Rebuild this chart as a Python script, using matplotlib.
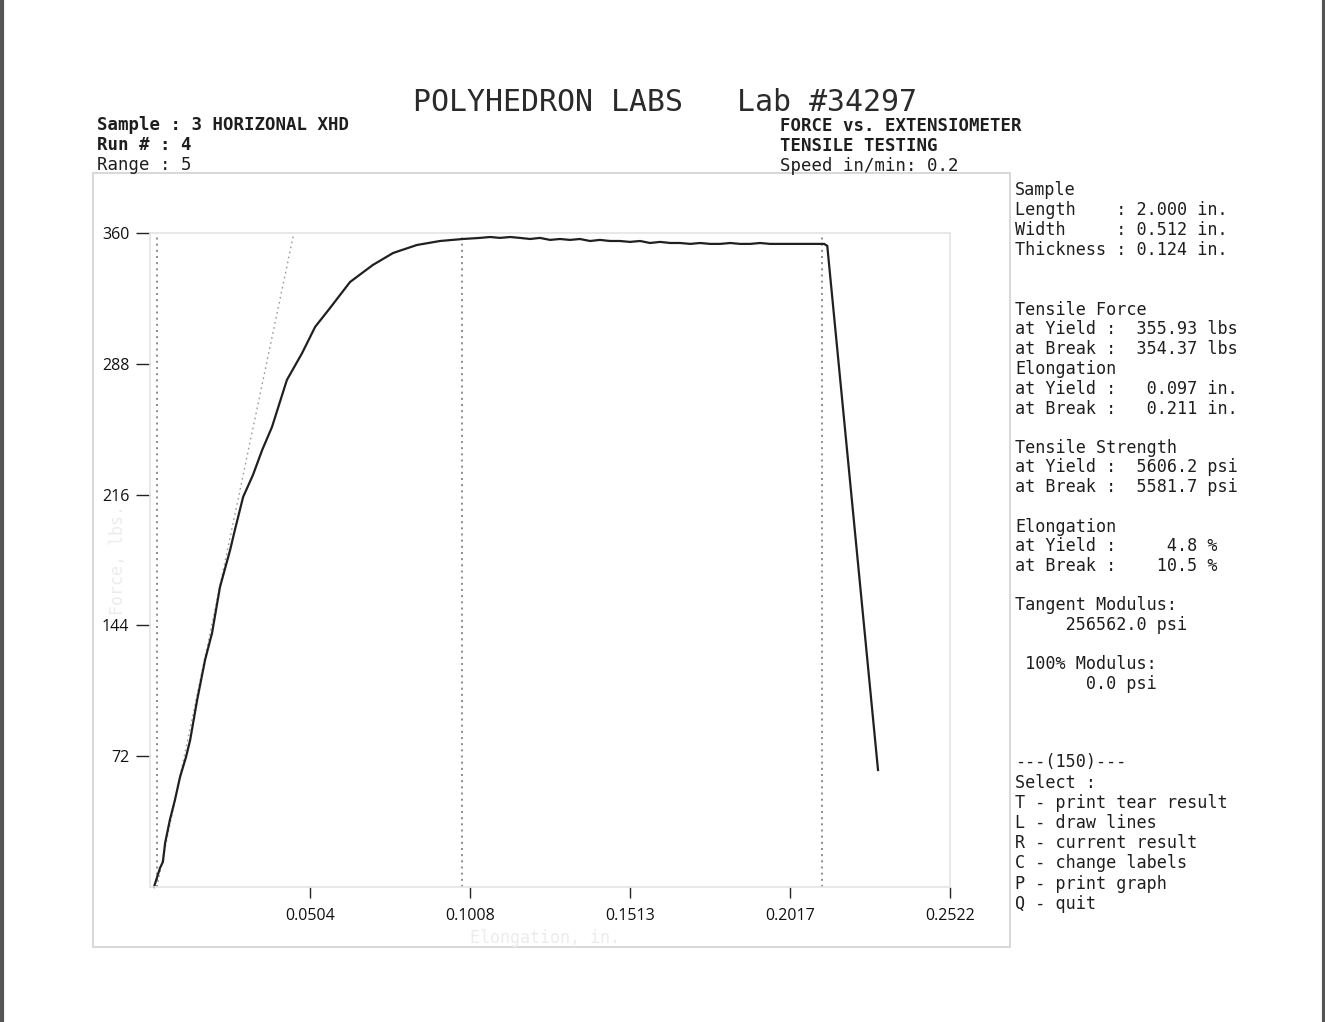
import matplotlib
matplotlib.use("Agg")
import matplotlib.pyplot as plt
from matplotlib.patches import Rectangle
from matplotlib.lines import Line2D

# ---------------- data ----------------
elong = [0.0012, 0.0021, 0.0031, 0.0040, 0.0047, 0.0062, 0.0078, 0.0094, 0.0113,
         0.0126, 0.0148, 0.0173, 0.0195, 0.0220, 0.0252, 0.0267, 0.0293, 0.0324,
         0.0353, 0.0384, 0.0431, 0.0479, 0.0520, 0.0567, 0.0630, 0.0702, 0.0766,
         0.0841, 0.0914, 0.0986, 0.1040, 0.1072, 0.1103, 0.1135, 0.1166, 0.1198,
         0.1229, 0.1261, 0.1292, 0.1324, 0.1355, 0.1387, 0.1418, 0.1450, 0.1481,
         0.1513, 0.1545, 0.1576, 0.1608, 0.1640, 0.1671, 0.1703, 0.1734, 0.1766,
         0.1797, 0.1829, 0.1860, 0.1892, 0.1923, 0.1955, 0.1986, 0.2018, 0.2049,
         0.2081, 0.2112, 0.2125, 0.2135, 0.2295]
force = [0.0, 5.0, 10.5, 13.8, 24.2, 36.9, 47.9, 60.5, 71.6,
         80.9, 102.9, 125.0, 139.8, 165.1, 185.5, 196.5, 214.7, 226.8,
         240.5, 253.2, 279.1, 293.9, 308.3, 318.7, 333.0, 342.4, 349.0,
         353.4, 355.6, 356.7, 357.3, 357.8, 357.3, 357.8, 357.3, 356.7,
         357.3, 356.2, 356.7, 356.2, 356.7, 355.6, 356.2, 355.6, 355.6,
         355.1, 355.6, 354.5, 355.1, 354.5, 354.5, 354.0, 354.5, 354.0,
         354.0, 354.5, 354.0, 354.0, 354.5, 354.0, 354.0, 354.0, 354.0,
         354.0, 354.0, 354.0, 352.9, 64.4]

tangent_x = [0.0021, 0.0453]
tangent_y = [0.0, 360.0]
marker_x = [0.0021, 0.0983, 0.2118]

xticks = [0.0504, 0.1008, 0.1513, 0.2017, 0.2522]
xtick_labels = ["0.0504", "0.1008", "0.1513", "0.2017", "0.2522"]
yticks = [72, 144, 216, 288, 360]
ytick_labels = ["72", "144", "216", "288", "360"]

title = "POLYHEDRON LABS   Lab #34297"
left_header = ["Sample : 3 HORIZONAL XHD", "Run # : 4", "Range : 5"]
right_header = ["FORCE vs. EXTENSIOMETER", "TENSILE TESTING", "Speed in/min: 0.2"]
panel_lines = [
    (190, "Sample"),
    (210, "Length    : 2.000 in."),
    (230, "Width     : 0.512 in."),
    (250, "Thickness : 0.124 in."),
    (310, "Tensile Force"),
    (329, "at Yield :  355.93 lbs"),
    (349, "at Break :  354.37 lbs"),
    (369, "Elongation"),
    (389, "at Yield :   0.097 in."),
    (409, "at Break :   0.211 in."),
    (448, "Tensile Strength"),
    (467, "at Yield :  5606.2 psi"),
    (487, "at Break :  5581.7 psi"),
    (527, "Elongation"),
    (546, "at Yield :     4.8 %"),
    (566, "at Break :    10.5 %"),
    (605, "Tangent Modulus:"),
    (625, "     256562.0 psi"),
    (664, " 100% Modulus:"),
    (684, "       0.0 psi"),
    (762, "---(150)---"),
    (783, "Select :"),
    (803, "T - print tear result"),
    (823, "L - draw lines"),
    (843, "R - current result"),
    (863, "C - change labels"),
    (884, "P - print graph"),
    (904, "Q - quit"),
]

# ---------------- figure ----------------
W, H = 1325, 1022
fig = plt.figure(figsize=(W / 100, H / 100), dpi=100)
fig.patch.set_facecolor("white")

def fx(px):
    return px / W

def fy(py):
    return 1 - py / H

mono = "DejaVu Sans Mono"
txtc = "#1e1e1e"

# page borders (left/right dark edges)
fig.add_artist(Line2D([fx(1.5), fx(1.5)], [0, 1], color="#555555", lw=3, transform=fig.transFigure))
fig.add_artist(Line2D([fx(1323.5), fx(1323.5)], [0, 1], color="#555555", lw=3, transform=fig.transFigure))

# outer faint frame of the plot
fig.add_artist(Rectangle((fx(93), fy(947)), fx(1010) - fx(93), fy(173) - fy(947),
                         transform=fig.transFigure, fill=False, ec="#d2d2d2", lw=1.2))

# axes
ax = fig.add_axes([fx(150.2), fy(887), fx(950) - fx(150.2), fy(233) - fy(887)])
ax.set_xlim(0, 0.2522)
ax.set_ylim(0, 360)
ax.set_facecolor("none")
for s in ["top", "right", "bottom", "left"]:
    ax.spines[s].set_color("#e4e4e4")
    ax.spines[s].set_linewidth(1.2)

ax.set_xticks(xticks)
ax.set_xticklabels(xtick_labels, fontfamily="Open Sans", fontsize=11.5, color="#111111")
ax.set_yticks(yticks)
ax.set_yticklabels(ytick_labels, fontfamily="Open Sans", fontsize=11.5, color="#111111")
ax.tick_params(axis="x", direction="out", length=8, width=1.0, color="#222222", pad=7)
ax.tick_params(axis="y", direction="out", length=10, width=1.0, color="#222222", pad=5)

# faint ghost axis labels of the original print
fig.text(fx(118), fy(560), "Force, lbs.", rotation=90, fontfamily=mono, fontsize=12,
         color="#ececec", ha="center", va="center")
fig.text(fx(545), fy(938), "Elongation, in.", fontfamily=mono, fontsize=12,
         color="#ececec", ha="center", va="center")

# vertical dotted markers
for xm in marker_x:
    ax.plot([xm, xm], [0, 360], color="#7a7a7a", lw=1.2, ls=(0, (1.2, 2.5)), clip_on=False)

# tangent line
ax.plot(tangent_x, tangent_y, color="#9a9a9a", lw=1.0, ls=(0, (1.2, 2.5)), clip_on=False)

# curve
ax.plot(elong, force, color="#202020", lw=1.6, clip_on=False, solid_joinstyle="miter")

# ---------------- texts ----------------
fig.text(fx(413), fy(102), title, fontfamily=mono, fontsize=21.5, color="#2a2a2a",
         va="center", ha="left")

for i, s in enumerate(left_header):
    fig.text(fx(97), fy(125 + 20 * i), s, fontfamily=mono, fontsize=12.5,
             color=txtc, va="center", ha="left", fontweight="bold" if i < 2 else "normal")

for i, s in enumerate(right_header):
    fig.text(fx(780), fy(126 + 20 * i), s, fontfamily=mono, fontsize=12.5,
             color=txtc, va="center", ha="left", fontweight="bold" if i < 2 else "normal")

for py, s in panel_lines:
    fig.text(fx(1015), fy(py), s, fontfamily=mono, fontsize=12.1,
             color=txtc, va="center", ha="left")

fig.savefig("out.png", dpi=100, facecolor="white")
